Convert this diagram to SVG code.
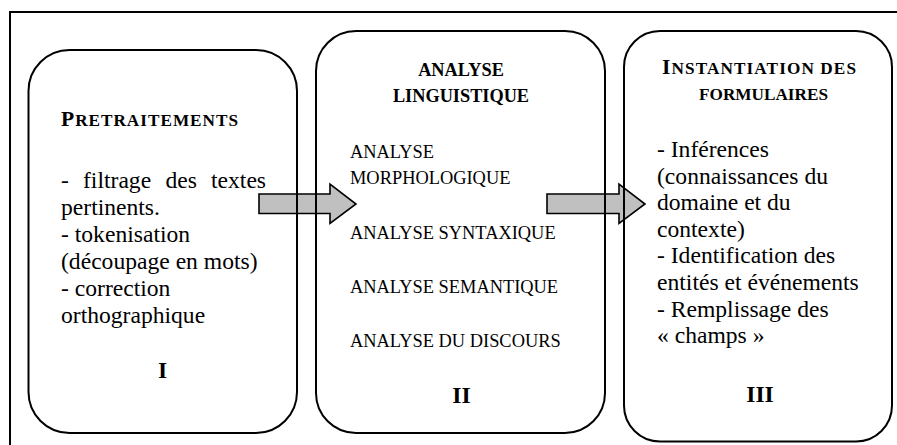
<svg xmlns="http://www.w3.org/2000/svg" width="897" height="445" viewBox="0 0 897 445" font-family="'Liberation Serif', 'Times New Roman', 'DejaVu Serif', serif">
<style>
.box{fill:none;stroke:#000;stroke-width:2}
.arrow{fill:#c0c0c0;stroke:#000;stroke-width:1.6;stroke-linejoin:miter}
.t{font-family:'Liberation Serif','Times New Roman','DejaVu Serif',serif;fill:#000}
.body{font-size:23.6px}
.item{font-size:18.4px}
.bold{font-weight:bold}
.mid{text-anchor:middle}
</style>
<rect x="10" y="12" width="900" height="450" fill="#fff" stroke="#000" stroke-width="2"/>
<g id="connectors">
<path class="arrow" d="M259,194 H330 V184 L356,204 L330,223.5 V213.5 H259 Z"/>
<path class="arrow" d="M547,194 H619 V184 L645,204 L619,223.5 V213.5 H547 Z"/>
</g>
<g id="node-pretraitements">
<rect class="box" x="28.5" y="50" width="268.5" height="383" rx="41" ry="41"/>
<text class="t bold" x="61" y="126" textLength="177" lengthAdjust="spacing"><tspan font-size="21.5px">P</tspan><tspan font-size="17.2px">RETRAITEMENTS</tspan></text>
<text class="t body" y="188"><tspan x="61">-</tspan><tspan x="83">filtrage</tspan><tspan x="165.5">des</tspan><tspan x="211">textes</tspan></text>
<text class="t body" x="61" y="214.9">pertinents.</text>
<text class="t body" x="61" y="241.8">- tokenisation</text>
<text class="t body" x="61" y="268.7">(découpage en mots)</text>
<text class="t body" x="61" y="295.6">- correction</text>
<text class="t body" x="61" y="322.5">orthographique</text>
<text class="t body bold mid" x="162.5" y="378">I</text>
</g>
<g id="node-analyse">
<rect class="box" x="316" y="31" width="289" height="402" rx="40" ry="40"/>
<text class="t bold mid" font-size="18.3" x="461" y="76">ANALYSE</text>
<text class="t bold mid" font-size="18.3" x="461" y="101.5">LINGUISTIQUE</text>
<text class="t item" x="350" y="158">ANALYSE</text>
<text class="t item" x="350" y="184">MORPHOLOGIQUE</text>
<text class="t item" x="350" y="239">ANALYSE SYNTAXIQUE</text>
<text class="t item" x="350" y="293">ANALYSE SEMANTIQUE</text>
<text class="t item" x="350" y="347">ANALYSE DU DISCOURS</text>
<text class="t body bold mid" x="461.5" y="403">II</text>
</g>
<g id="node-instantiation">
<rect class="box" x="624" y="31" width="268" height="410.5" rx="36" ry="36"/>
<text class="t bold" x="662" y="74" textLength="194" lengthAdjust="spacing"><tspan font-size="21.5px">I</tspan><tspan font-size="17.2px">NSTANTIATION DES</tspan></text>
<text class="t bold" x="699" y="100" font-size="17.2" textLength="129" lengthAdjust="spacing">FORMULAIRES</text>
<text class="t body" x="657" y="157">- Inférences</text>
<text class="t body" x="657" y="183.6">(connaissances du</text>
<text class="t body" x="657" y="210.2">domaine et du</text>
<text class="t body" x="657" y="236.8">contexte)</text>
<text class="t body" x="657" y="263.4">- Identification des</text>
<text class="t body" x="657" y="290">entités et événements</text>
<text class="t body" x="657" y="316.6">- Remplissage des</text>
<text class="t body" x="657" y="343.2">« champs »</text>
<text class="t body bold mid" x="760" y="402">III</text>
</g>
</svg>
